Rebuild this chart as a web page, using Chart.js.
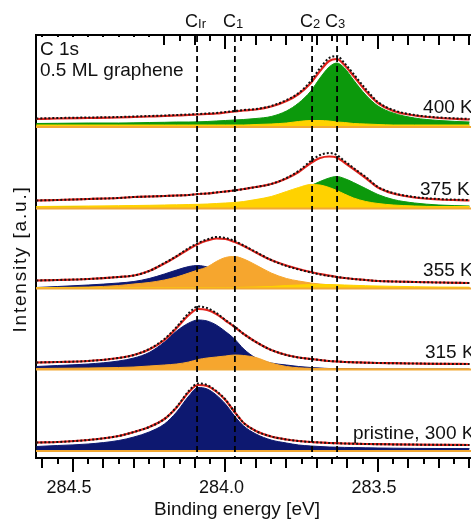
<!DOCTYPE html>
<html>
<head>
<meta charset="utf-8">
<script src="https://cdn.jsdelivr.net/npm/chart.js@4.4.1/dist/chart.umd.min.js"></script>
<style>
  html, body { margin: 0; padding: 0; background: #fff; }
</style>
</head>
<body>
<canvas id="chart" width="471" height="520"></canvas>
<script>
// binding energy grid (eV), shared by every curve
const energy = [284.62, 284.55, 284.45, 284.35, 284.30, 284.25, 284.20, 284.16, 284.12, 284.09,
  284.06, 284.03, 284.00, 283.97, 283.94, 283.90, 283.85, 283.80, 283.76, 283.72,
  283.69, 283.66, 283.635, 283.61, 283.58, 283.54, 283.50, 283.45, 283.38, 283.30, 283.20];

// 400 K
const data400 = [339.5, 340, 340.5, 341, 341.5, 342, 342.5, 343, 343.5, 344, 344.5, 345, 346, 347, 348, 349, 352, 358, 365, 377, 390, 400, 402, 395, 384, 369, 356, 348, 343, 340.5, 339];
const fit400 = [339, 339.5, 340, 340.5, 341, 341.5, 342, 342.5, 343, 343.5, 344, 344.5, 345.5, 346.5, 347.5, 348.5, 351.5, 357, 364, 375, 387, 397, 399, 393, 382, 367, 355, 347, 342.5, 340, 338.5];
const green400 = [334.5, 334.7, 335, 335, 335.2, 335.5, 335.7, 336, 336, 336.2, 336.5, 337, 337.5, 338, 338.5, 339.5, 341.5, 347, 355, 367, 380, 391, 395, 390, 378, 363, 352, 345, 340, 337.5, 336];
const yellow400 = [333, 333, 333, 333, 333, 333, 333, 333, 333, 333, 333, 333, 333, 333, 333, 333.5, 334, 335, 336.5, 337.5, 337.5, 337, 336, 335.5, 334.5, 334, 333.5, 333, 333, 333, 333];

// 375 K
const data375 = [257.5, 258, 259, 260, 261, 261.5, 262, 262.5, 263, 264, 264.5, 265.5, 266.5, 267.5, 269, 271, 274, 280, 287, 297, 303, 305, 303, 297, 290, 281, 271, 265, 261, 259, 258];
const fit375 = [257.5, 258, 259, 260, 261, 261.5, 262, 262.5, 263, 264, 264.5, 265.5, 266.5, 267.5, 269, 271, 274, 279.5, 286, 295, 300, 301.5, 300.5, 295.5, 289, 280, 270.5, 264.5, 260.5, 258.5, 257.5];
const yellow375 = [251.5, 251.7, 252, 252.3, 252.5, 252.7, 253, 253.2, 253.5, 253.7, 254, 254.5, 255, 255.5, 256.5, 258.5, 261.5, 266.5, 270.5, 273.5, 273, 270.5, 267.5, 264, 260, 256.5, 254.5, 253, 252, 251.5, 251.5];
const green375 = [251.5, 251.5, 251.5, 251.5, 251.5, 251.7, 252, 252.2, 252.5, 252.7, 253, 253.5, 254, 254.5, 255.5, 257.5, 260.5, 264.5, 268.5, 272.5, 276.5, 280, 281.5, 279.5, 275.5, 269.5, 263.5, 258.5, 255, 253, 252];

// 355 K
const data355 = [177.5, 178, 179, 181, 182.5, 187, 195, 202, 210, 215, 218.5, 221, 220, 217, 212.5, 206, 198, 192, 188.5, 185.5, 183.5, 182, 181, 180, 179, 178, 177, 176.5, 176, 175.5, 175];
const fit355 = [177.5, 178, 179, 181, 182.5, 187, 194.5, 201.5, 209, 214, 217.5, 219.5, 219, 216, 212, 205.5, 198, 192.5, 189, 186, 184, 182.5, 181, 180, 179, 178, 177, 176.5, 176, 175.5, 175];
const navy355 = [170.5, 171.5, 173, 175, 176.5, 179.5, 184, 188, 191.5, 192.5, 191, 188, 183.5, 179, 175.5, 173, 171.5, 170.5, 170, 170, 170, 170, 170, 170, 170, 170, 170, 170, 170, 170, 170];
const orange355 = [170, 170.5, 171, 172.5, 174, 175.5, 178, 181, 185, 188, 191, 196.5, 200.5, 201.5, 199, 193, 185, 179.5, 177, 175, 174, 173.2, 172.7, 172.2, 171.7, 171.2, 170.8, 170.5, 170.2, 170, 170];
const yellow355 = [170.5, 170.5, 170.5, 170.5, 170.5, 170.5, 170.5, 170.5, 170.5, 170.5, 170.5, 170.5, 170.5, 170.5, 170.7, 171, 171.5, 172.5, 173, 173.5, 173.5, 173.5, 173.2, 173, 172.7, 172.3, 172, 171.7, 171.3, 171, 170.8];

// 315 K
const data315 = [95.5, 96, 97, 100, 103, 109, 119, 131, 145, 151.5, 150, 145, 138, 131.5, 124, 116, 108, 103, 100.5, 99, 98, 97, 96.5, 96, 95.7, 95.3, 95, 94.8, 94.5, 94.2, 94];
const fit315 = [95.5, 96, 97, 100, 103, 108.5, 118, 130, 143, 149, 148, 144, 137.5, 131, 124, 116, 108, 103, 100.5, 99, 98, 97, 96.5, 96, 95.7, 95.3, 95, 94.8, 94.5, 94.2, 94];
const navy315 = [91.5, 92.5, 94, 97, 100, 105.5, 116, 127, 135, 138, 137, 133, 126.5, 119, 109, 100, 95, 93, 91.5, 90.5, 90, 89.5, 89.5, 89.5, 89.2, 89, 89, 89, 89, 89, 89];
const orange315 = [89.5, 89.7, 90, 90.5, 91, 92, 93, 94, 96, 98.5, 100, 101, 102, 103, 102.5, 100.5, 95, 91.5, 90.2, 89.7, 89.5, 89.3, 89.2, 89.2, 89.1, 89, 89, 89, 89, 89, 89];

// pristine, 300 K
const data300 = [15.5, 16, 18, 22, 26, 31, 39, 51, 67, 74.5, 73, 67, 58.5, 46, 35, 27, 21.5, 18.5, 17, 16, 15.5, 15, 14.8, 14.5, 14.3, 14, 13.8, 13.6, 13.4, 13.2, 13];
const fit300 = [15.5, 16, 18, 22, 26, 31, 39, 50.5, 66, 73, 72, 66.5, 58, 46, 35, 27, 21.5, 18.5, 17, 16, 15.5, 15, 14.8, 14.5, 14.3, 14, 13.8, 13.6, 13.4, 13.2, 13];
const navy300 = [11.5, 12.5, 14, 17.5, 21, 26, 34, 46, 62, 70.5, 69, 63, 54, 42, 32, 24, 18, 15, 13, 12, 11.5, 11, 10.8, 10.6, 10.4, 10.2, 10, 9.8, 9.6, 9.5, 9.4];

// baseline (offset) of each spectrum: 400, 375, 355, 315, 300 K
const baselines = [331, 249.5, 169.5, 88.5, 7];
const tempLabels = ['400 K', '375 K', '355 K', '315 K', 'pristine, 300 K'];

// component positions (eV) and names
const peakEnergy = [284.093, 283.969, 283.716, 283.634];
const peakNames = ['Ir', '1', '2', '3'];

const majorTicks = [284.5, 284.0, 283.5];
const X_MIN = 283.195, X_MAX = 284.621;

const COL = {
  navy: '#0d1870',
  orange: '#f6a62e',
  yellow: '#ffd200',
  green: '#0c990c',
  red: '#e3231c',
  base: '#f2a833'
};
const FONT = "'Liberation Sans', Arial, sans-serif";

const pts = arr => energy.map((e, i) => ({ x: e, y: arr[i] }));

function comp(values, color, base, order) {
  return { data: pts(values), borderColor: color, backgroundColor: color, borderWidth: 1,
           fill: { value: base }, order: order };
}
function baseLine(v) {
  return { data: [{ x: X_MAX, y: v }, { x: X_MIN, y: v }], borderColor: COL.base,
           borderWidth: 2, fill: false, order: 2 };
}
function fitLine(values) {
  return { data: pts(values), borderColor: COL.red, borderWidth: 2.2, fill: false, order: 1 };
}
function dataLine(values) {
  return { data: pts(values), borderColor: '#111', borderWidth: 2, borderDash: [2, 2], fill: false, order: 0 };
}

const datasets = [
  dataLine(data400), fitLine(fit400), baseLine(baselines[0]),
  comp(yellow400, COL.yellow, baselines[0], 3), comp(green400, COL.green, baselines[0], 5),

  dataLine(data375), fitLine(fit375), baseLine(baselines[1]),
  comp(yellow375, COL.yellow, baselines[1], 3), comp(green375, COL.green, baselines[1], 5),

  dataLine(data355), fitLine(fit355), baseLine(baselines[2]),
  comp(yellow355, COL.yellow, baselines[2], 3), comp(orange355, COL.orange, baselines[2], 4),
  comp(navy355, COL.navy, baselines[2], 6),

  dataLine(data315), fitLine(fit315), baseLine(baselines[3]),
  comp(orange315, COL.orange, baselines[3], 4), comp(navy315, COL.navy, baselines[3], 6),

  dataLine(data300), fitLine(fit300), baseLine(baselines[4]),
  comp(navy300, COL.navy, baselines[4], 6)
];

// where the texts sit, in (eV, intensity) coordinates
const tempLabelAt = [[283.352, 345], [283.362, 263], [283.352, 182], [283.346, 100], [283.582, 19]];

const decor = {
  id: 'decor',
  afterDatasetsDraw(chart) {
    const { ctx, chartArea: a, scales: { x, y } } = chart;
    ctx.save();
    // minor / major ticks, bottom (outward) and top (inward)
    ctx.strokeStyle = '#000';
    ctx.lineWidth = 2;
    for (let k = 0; k <= 28; k++) {
      const e = 283.2 + k * 0.05;
      const px = Math.round(x.getPixelForValue(e));
      const tenth = Math.round(e * 100) % 10 === 0;
      const half = Math.round(e * 100) % 50 === 0;
      const len = half ? 14 : (tenth ? 10 : 6);
      ctx.beginPath();
      ctx.moveTo(px, a.bottom); ctx.lineTo(px, a.bottom + len);
      ctx.moveTo(px, a.top); ctx.lineTo(px, a.top + len);
      ctx.stroke();
    }
    // white box behind the sample text
    ctx.fillStyle = '#fff';
    ctx.fillRect(a.left + 2, a.top + 2, 112, 46);

    // dashed component markers
    ctx.setLineDash([6, 4]);
    ctx.lineWidth = 1.8;
    peakEnergy.forEach(e => {
      const px = x.getPixelForValue(e);
      ctx.beginPath();
      ctx.moveTo(px, a.top + 1); ctx.lineTo(px, a.bottom);
      ctx.stroke();
    });
    ctx.setLineDash([]);

    // texts
    ctx.fillStyle = '#111';
    ctx.textBaseline = 'alphabetic';
    ctx.textAlign = 'left';
    ctx.font = '19px ' + FONT;
    ctx.fillText('C 1s', a.left + 4, a.top + 20);
    ctx.fillText('0.5 ML graphene', a.left + 4, a.top + 41);
    tempLabels.forEach((t, i) => {
      const [e, v] = tempLabelAt[i];
      ctx.fillText(t, x.getPixelForValue(e), y.getPixelForValue(v));
    });

    // C labels above the frame
    peakEnergy.forEach((e, i) => {
      const px = x.getPixelForValue(e);
      ctx.font = '18px ' + FONT;
      ctx.textAlign = 'right';
      ctx.fillText('C', px + 1, 27);
      ctx.font = '13px ' + FONT;
      ctx.textAlign = 'left';
      ctx.fillText(peakNames[i], px + 1, 28);
    });

    // axis titles
    ctx.font = '19px ' + FONT;
    ctx.textAlign = 'center';
    ctx.fillText('Binding energy [eV]', 237, 515);
    ctx.translate(21, 259);
    ctx.rotate(-Math.PI / 2);
    ctx.textBaseline = 'middle';
    ctx.letterSpacing = '1.8px';
    ctx.fillText('Intensity [a.u.]', 0, 0);
    ctx.restore();
  }
};

new Chart(document.getElementById('chart'), {
  type: 'line',
  data: { datasets },
  plugins: [decor],
  options: {
    responsive: false,
    animation: false,
    events: [],
    layout: { padding: 0 },
    elements: {
      point: { radius: 0 },
      line: { cubicInterpolationMode: 'monotone' }
    },
    plugins: { legend: { display: false }, tooltip: { enabled: false } },
    scales: {
      x: {
        type: 'linear', position: 'bottom', reverse: true, min: X_MIN, max: X_MAX,
        afterBuildTicks: s => { s.ticks = majorTicks.map(v => ({ value: v })); },
        afterFit: s => { s.height = 62; },
        grid: { display: false, drawTicks: false },
        border: { display: true, color: '#000', width: 2 },
        ticks: { color: '#111', font: { family: FONT, size: 18 }, padding: 19, maxRotation: 0,
                 labelOffset: -4, autoSkip: false, callback: v => Number(v).toFixed(1) }
      },
      x2: {
        type: 'linear', position: 'top', reverse: true, min: X_MIN, max: X_MAX,
        afterFit: s => { s.height = 35; },
        grid: { display: false, drawTicks: false },
        border: { display: true, color: '#000', width: 2 },
        ticks: { display: false }
      },
      y: {
        min: 0, max: 423,
        afterFit: s => { s.width = 36; },
        grid: { display: false, drawTicks: false },
        border: { display: true, color: '#000', width: 2 },
        ticks: { display: false }
      }
    }
  }
});
</script>
</body>
</html>
